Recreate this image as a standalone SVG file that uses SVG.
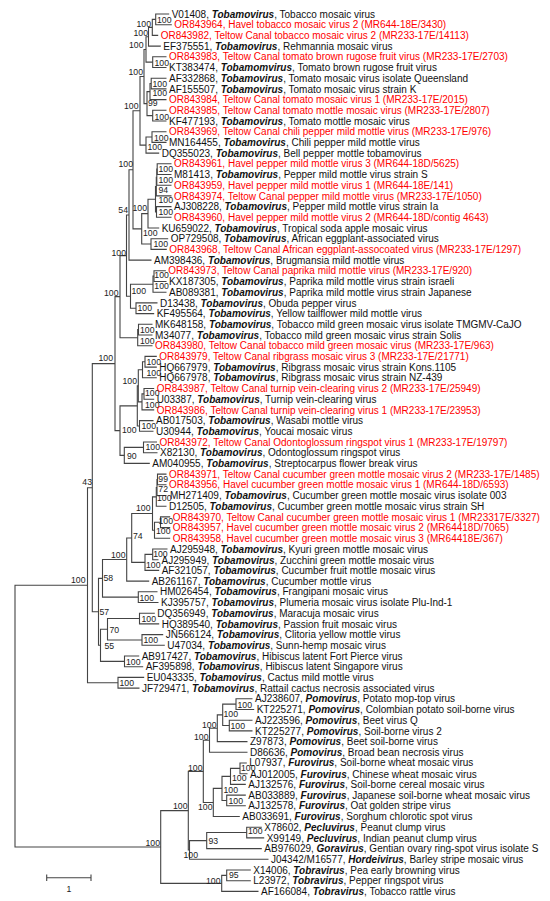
<svg xmlns="http://www.w3.org/2000/svg" width="550" height="901" viewBox="0 0 550 901">
<style>
.b{fill:none;stroke:#444;stroke-width:1.1}
.t{font-family:"Liberation Sans",Arial,sans-serif;font-size:10px;fill:#111}
.r{fill:#f00}
.g{font-weight:bold;font-style:italic}
.n{font-family:"Liberation Sans",Arial,sans-serif;font-size:8.7px;fill:#222}
.e{text-anchor:end}
</style>
<rect width="550" height="901" fill="#fff"/>
<g id="connectors" class="b">
<path d="M169.2 14H155.7V24.7H171.8"/>
<path d="M155.7 19.35H152.3V35.4H158.2"/>
<path d="M152.3 27.38H148.5V46.1H160.8"/>
<path d="M166.5 56.8H152.7V67.5H166.5"/>
<path d="M148.5 36.74H146V62.15H152.7"/>
<path d="M166.5 78.2H151.2V88.9H166.5"/>
<path d="M151.2 83.55H150V99.6H166.5"/>
<path d="M166.5 110.3H152.7V121H166.5"/>
<path d="M150 91.58H147V115.65H152.7"/>
<path d="M146 49.44H144V103.61H147"/>
<path d="M166.5 131.7H152V142.4H166.5"/>
<path d="M152 137.05H146V153.1H159.2"/>
<path d="M144 76.53H140V145.08H146"/>
<path d="M171.5 163.8H157.2V174.5H171.5"/>
<path d="M157.2 169.15H156.8V185.2H171.5"/>
<path d="M156.8 177.18H156.3V195.9H171.5"/>
<path d="M171.5 206.6H156.5V217.3H171.5"/>
<path d="M156.3 186.54H155.5V211.95H156.5"/>
<path d="M155.5 199.24H148V228H159.2"/>
<path d="M168.2 238.7H151V249.4H166.8"/>
<path d="M148 213.62H141.7V244.05H151"/>
<path d="M140 110.8H133V228.84H141.7"/>
<path d="M133 169.82H129V260.1H151.5"/>
<path d="M165.8 270.8H154V281.5H166.5"/>
<path d="M154 276.15H153V292.2H166.5"/>
<path d="M157.5 302.9H136V313.6H154.2"/>
<path d="M153 284.18H130.5V308.25H136"/>
<path d="M129 214.96H126.5V296.21H130.5"/>
<path d="M152.5 324.3H138.5V335H152.5"/>
<path d="M138.5 329.65H137.7V345.7H152.5"/>
<path d="M126.5 255.59H120V337.68H137.7"/>
<path d="M156.8 356.4H145V367.1H156.8"/>
<path d="M145 361.75H142.5V377.8H156.8"/>
<path d="M154.2 388.5H144V399.2H154.2"/>
<path d="M144 393.85H142V409.9H154.2"/>
<path d="M142.5 369.78H138.3V401.88H142"/>
<path d="M153.5 420.6H139.5V431.3H153.5"/>
<path d="M138.3 385.83H137.3V425.95H139.5"/>
<path d="M157 442H143.5V452.7H157.5"/>
<path d="M143.5 447.35H124.3V463.4H149.8"/>
<path d="M137.3 405.89H120V455.38H124.3"/>
<path d="M120 296.63H115V430.63H120"/>
<path d="M166.5 474.1H157.5V484.8H166.5"/>
<path d="M157.5 479.45H157V495.5H166.5"/>
<path d="M157 487.48H156.3V506.2H166.5"/>
<path d="M170.2 516.9H160.5V527.6H170.2"/>
<path d="M160.5 522.25H154.5V538.3H170.2"/>
<path d="M156.3 496.84H152.5V530.28H154.5"/>
<path d="M167.5 549H152.7V559.7H158.5"/>
<path d="M152.7 554.35H145V570.4H159.2"/>
<path d="M152.5 513.56H131.7V562.38H145"/>
<path d="M131.7 537.97H126.7V581.1H149.2"/>
<path d="M157.5 591.8H138.3V602.5H158.5"/>
<path d="M126.7 559.53H102.5V597.15H138.3"/>
<path d="M154.8 613.2H139.5V623.9H159.2"/>
<path d="M163.2 634.6H142V645.3H164.8"/>
<path d="M139.5 618.55H107.5V639.95H142"/>
<path d="M139.2 656H124.5V666.7H143.2"/>
<path d="M107.5 629.25H100.5V661.35H124.5"/>
<path d="M102.5 578.34H98.5V645.3H100.5"/>
<path d="M115 363.63H92.3V611.82H98.5"/>
<path d="M144.2 677.4H118V688.1H139.5"/>
<path d="M92.3 487.73H87.5V682.75H118"/>
<path d="M252.5 698.8H236V709.5H254.2"/>
<path d="M252.5 720.2H229.3V730.9H252.5"/>
<path d="M236 704.15H222.7V725.55H229.3"/>
<path d="M222.7 714.85H217.3V741.6H247.5"/>
<path d="M217.3 728.23H209.5V752.3H247.5"/>
<path d="M246.8 763H240V773.7H247.5"/>
<path d="M240 768.35H230.5V784.4H245.8"/>
<path d="M245.8 795.1H226.7V805.8H245.8"/>
<path d="M230.5 776.38H222V800.45H226.7"/>
<path d="M222 788.41H213.3V816.5H239.8"/>
<path d="M209.5 740.26H203.3V802.46H213.3"/>
<path d="M261.8 827.2H246.7V837.9H264.2"/>
<path d="M246.7 832.55H206.7V848.6H261.8"/>
<path d="M206.7 840.58H189.5V859.3H268.5"/>
<path d="M203.3 771.36H188.3V849.94H189.5"/>
<path d="M250.8 870H226.7V880.7H250.8"/>
<path d="M226.7 875.35H221.7V891.4H258.5"/>
<path d="M188.3 810.65H160.7V883.38H221.7"/>
<path d="M87.5 585.24H15V847.01H160.7"/>
</g>
<g id="scale-bar">
<path class="b" d="M46.7 877.7H91M46.7 874.5V881M91 874.5V881"/>
<text class="n" x="69" y="892" text-anchor="middle" font-size="10">1</text>
</g>
<g id="support-values" class="n">
<g id="node-1"><text x="157" y="22.6">100</text></g>
<g id="node-2"><text class="e" x="151" y="27.1">100</text></g>
<g id="node-3"><text class="e" x="148" y="36.1">100</text></g>
<g id="node-4"><text class="e" x="143.5" y="48.1">100</text></g>
<g id="node-5"><text x="154.5" y="65.6">100</text></g>
<g id="node-6"><text class="e" x="143" y="75.1">100</text></g>
<g id="node-7"><text x="152.5" y="87.1">100</text></g>
<g id="node-8"><text x="152.5" y="95.6">100</text></g>
<g id="node-9"><text x="148" y="106.1">99</text></g>
<g id="node-10"><text x="154.5" y="119.6">100</text></g>
<g id="node-11"><text class="e" x="138.5" y="109.1">100</text></g>
<g id="node-12"><text x="154" y="140.6">100</text></g>
<g id="node-13"><text x="147.5" y="150.1">100</text></g>
<g id="node-14"><text class="e" x="133" y="167.1">100</text></g>
<g id="node-15"><text x="158.5" y="171.6">100</text></g>
<g id="node-16"><text x="158.5" y="183.1">100</text></g>
<g id="node-17"><text x="158.5" y="193.1">94</text></g>
<g id="node-18"><text x="158.5" y="202.6">100</text></g>
<g id="node-19"><text x="158.5" y="215.1">100</text></g>
<g id="node-20"><text class="e" x="128" y="213.1">54</text></g>
<g id="node-21"><text class="e" x="147" y="211.1">100</text></g>
<g id="node-22"><text x="143" y="236.1">100</text></g>
<g id="node-23"><text x="153.5" y="246.6">100</text></g>
<g id="node-24"><text class="e" x="126" y="256.1">100</text></g>
<g id="node-25"><text class="e" x="118.5" y="296.1">100</text></g>
<g id="node-26"><text x="154.3" y="278.1">100</text></g>
<g id="node-27"><text x="154.3" y="289.1">100</text></g>
<g id="node-28"><text x="131.5" y="293.6">100</text></g>
<g id="node-29"><text x="137.5" y="310.6">100</text></g>
<g id="node-30"><text x="140" y="332.6">100</text></g>
<g id="node-31"><text x="140" y="344.1">100</text></g>
<g id="node-32"><text class="e" x="113" y="361.1">100</text></g>
<g id="node-33"><text x="146.5" y="364.6">100</text></g>
<g id="node-34"><text x="146.5" y="375.6">100</text></g>
<g id="node-35"><text class="e" x="137" y="384.1">100</text></g>
<g id="node-36"><text x="145" y="396.1">100</text></g>
<g id="node-37"><text x="145" y="407.6">100</text></g>
<g id="node-38"><text x="141.5" y="429.1">100</text></g>
<g id="node-39"><text x="122" y="432.6">100</text></g>
<g id="node-40"><text x="145.5" y="450.1">100</text></g>
<g id="node-41"><text x="127" y="458.6">90</text></g>
<g id="node-42"><text class="e" x="92" y="485.1">43</text></g>
<g id="node-43"><text x="158.3" y="482.1">99</text></g>
<g id="node-44"><text x="158.3" y="492.1">72</text></g>
<g id="node-45"><text x="157" y="501.1">100</text></g>
<g id="node-46"><text class="e" x="150.5" y="511.1">100</text></g>
<g id="node-47"><text x="158.5" y="524.1">100</text></g>
<g id="node-48"><text x="156" y="534.1">100</text></g>
<g id="node-49"><text x="133" y="538.6">74</text></g>
<g id="node-50"><text x="153.2" y="557.4">100</text></g>
<g id="node-51"><text x="146" y="567.6">100</text></g>
<g id="node-52"><text class="e" x="125.5" y="557.6">100</text></g>
<g id="node-53"><text x="103.5" y="581.1">58</text></g>
<g id="node-54"><text class="e" x="85.5" y="583.1">100</text></g>
<g id="node-55"><text x="139.5" y="600.6">100</text></g>
<g id="node-56"><text x="99.5" y="614.6">57</text></g>
<g id="node-57"><text x="141.5" y="621.6">100</text></g>
<g id="node-58"><text x="109.5" y="632.6">70</text></g>
<g id="node-59"><text x="143.5" y="643.1">100</text></g>
<g id="node-60"><text x="104.5" y="649.1">55</text></g>
<g id="node-61"><text x="126" y="664.6">100</text></g>
<g id="node-62"><text x="119.5" y="686.1">100</text></g>
<g id="node-63"><text x="237.5" y="707.6">100</text></g>
<g id="node-64"><text x="223.5" y="717.1">100</text></g>
<g id="node-65"><text x="230.5" y="729.1">100</text></g>
<g id="node-66"><text class="e" x="216.5" y="727.6">100</text></g>
<g id="node-67"><text class="e" x="208.5" y="739.6">100</text></g>
<g id="node-68"><text class="e" x="202.5" y="770.6">100</text></g>
<g id="node-69"><text x="241" y="770.8">100</text></g>
<g id="node-70"><text x="232" y="780.6">100</text></g>
<g id="node-71"><text x="223.5" y="792.6">100</text></g>
<g id="node-72"><text x="228.5" y="803.6">100</text></g>
<g id="node-73"><text class="e" x="212.5" y="810.1">100</text></g>
<g id="node-74"><text class="e" x="187.5" y="808.6">100</text></g>
<g id="node-75"><text x="248" y="834.1">100</text></g>
<g id="node-76"><text x="208.5" y="843.6">93</text></g>
<g id="node-77"><text class="e" x="160" y="845.6">100</text></g>
<g id="node-78"><text class="e" x="198" y="858.1">100</text></g>
<g id="node-79"><text x="229" y="877.6">95</text></g>
<g id="node-80"><text class="e" x="220.5" y="883.6">100</text></g>
</g>
<g id="leaves" class="t">
<g id="leaf-V01408"><text x="171.7" y="17.6">V01408, <tspan class="g">Tobamovirus</tspan>, Tobacco mosaic virus</text></g>
<g id="leaf-OR843964"><text class="r" x="174.3" y="28.3">OR843964, Havel tobacco mosaic virus 2 (MR644-18E/3430)</text></g>
<g id="leaf-OR843982"><text class="r" x="160.7" y="39">OR843982, Teltow Canal tobacco mosaic virus 2 (MR233-17E/14113)</text></g>
<g id="leaf-EF375551"><text x="163.3" y="49.7">EF375551, <tspan class="g">Tobamovirus</tspan>, Rehmannia mosaic virus</text></g>
<g id="leaf-OR843983"><text class="r" x="169" y="60.4">OR843983, Teltow Canal tomato brown rugose fruit virus (MR233-17E/2703)</text></g>
<g id="leaf-KT383474"><text x="169" y="71.1">KT383474, <tspan class="g">Tobamomvirus</tspan>, Tomato brown rugose fruit virus</text></g>
<g id="leaf-AF332868"><text x="169" y="81.8">AF332868, <tspan class="g">Tobamovirus</tspan>, Tomato mosaic virus isolate Queensland</text></g>
<g id="leaf-AF155507"><text x="169" y="92.5">AF155507, <tspan class="g">Tobamovirus</tspan>, Tomato mosaic virus strain K</text></g>
<g id="leaf-OR843984"><text class="r" x="169" y="103.2">OR843984, Teltow Canal tomato mosaic virus 1  (MR233-17E/2015)</text></g>
<g id="leaf-OR843985"><text class="r" x="169" y="113.9">OR843985, Teltow Canal tomato mottle mosaic virus (MR233-17E/2807)</text></g>
<g id="leaf-KF477193"><text x="169" y="124.6">KF477193, <tspan class="g">Tobamovirus</tspan>, Tomato mottle mosaic virus</text></g>
<g id="leaf-OR843969"><text class="r" x="169" y="135.3">OR843969, Teltow Canal chili pepper mild mottle virus (MR233-17E/976)</text></g>
<g id="leaf-MN164455"><text x="169" y="146">MN164455, <tspan class="g">Tobamovirus</tspan>, Chili pepper mild mottle virus</text></g>
<g id="leaf-DQ355023"><text x="161.7" y="156.7">DQ355023, <tspan class="g">Tobamovirus</tspan>, Bell pepper mottle tobamovirus</text></g>
<g id="leaf-OR843961"><text class="r" x="174" y="167.4">OR843961, Havel pepper mild mottle virus 3 (MR644-18D/5625)</text></g>
<g id="leaf-M81413"><text x="174" y="178.1">M81413, <tspan class="g">Tobamovirus</tspan>, Pepper mild mottle virus strain S</text></g>
<g id="leaf-OR843959"><text class="r" x="174" y="188.8">OR843959, Havel pepper mild mottle virus 1  (MR644-18E/141)</text></g>
<g id="leaf-OR843974"><text class="r" x="174" y="199.5">OR843974, Teltow Canal pepper mild mottle virus (MR233-17E/1050)</text></g>
<g id="leaf-AJ308228"><text x="174" y="210.2">AJ308228, <tspan class="g">Tobamovirus</tspan>, Pepper mild mottle virus strain Ia</text></g>
<g id="leaf-OR843960"><text class="r" x="174" y="220.9">OR843960, Havel pepper mild mottle virus 2 (MR644-18D/contig 4643)</text></g>
<g id="leaf-KU659022"><text x="161.7" y="231.6">KU659022, <tspan class="g">Tobamovirus</tspan>, Tropical soda apple mosaic virus</text></g>
<g id="leaf-OP729508"><text x="170.7" y="242.3">OP729508, <tspan class="g">Tobamovirus</tspan>, African eggplant-associated virus</text></g>
<g id="leaf-OR843968"><text class="r" x="169.3" y="253">OR843968, Teltow Canal African eggplant-assocoated virus (MR233-17E/1297)</text></g>
<g id="leaf-AM398436"><text x="154" y="263.7">AM398436, <tspan class="g">Tobamovirus</tspan>, Brugmansia mild mottle virus</text></g>
<g id="leaf-OR843973"><text class="r" x="168.3" y="274.4">OR843973, Teltow Canal paprika mild mottle virus (MR233-17E/920)</text></g>
<g id="leaf-KX187305"><text x="169" y="285.1">KX187305, <tspan class="g">Tobamovirus</tspan>, Paprika mild mottle virus strain israeli</text></g>
<g id="leaf-AB089381"><text x="169" y="295.8">AB089381, <tspan class="g">Tobamovirus</tspan>, Paprika mild mottle virus strain Japanese</text></g>
<g id="leaf-D13438"><text x="160" y="306.5">D13438, <tspan class="g">Tobamovirus</tspan>, Obuda pepper virus</text></g>
<g id="leaf-KF495564"><text x="156.7" y="317.2">KF495564, <tspan class="g">Tobamovirus</tspan>, Yellow tailflower mild mottle virus</text></g>
<g id="leaf-MK648158"><text x="155" y="327.9">MK648158, <tspan class="g">Tobamovirus</tspan>, Tobacco mild green mosaic virus isolate TMGMV-CaJO</text></g>
<g id="leaf-M34077"><text x="155" y="338.6">M34077, <tspan class="g">Tobamovirus</tspan>, Tobacco mild green mosaic virus strain Solis</text></g>
<g id="leaf-OR843980"><text class="r" x="155" y="349.3">OR843980, Teltow Canal tobacco mild green mosaic virus (MR233-17E/963)</text></g>
<g id="leaf-OR843979"><text class="r" x="159.3" y="360">OR843979, Teltow Canal ribgrass mosaic virus 3 (MR233-17E/21771)</text></g>
<g id="leaf-HQ667979"><text x="159.3" y="370.7">HQ667979, <tspan class="g">Tobamovirus</tspan>, Ribgrass mosaic virus strain Kons.1105</text></g>
<g id="leaf-HQ667978"><text x="159.3" y="381.4">HQ667978, <tspan class="g">Tobamovirus</tspan>, Ribgrass mosaic virus strain NZ-439</text></g>
<g id="leaf-OR843987"><text class="r" x="156.7" y="392.1">OR843987, Teltow Canal turnip vein-clearing virus 2 (MR233-17E/25949)</text></g>
<g id="leaf-U03387"><text x="156.7" y="402.8">U03387, <tspan class="g">Tobamovirus</tspan>, Turnip vein-clearing virus</text></g>
<g id="leaf-OR843986"><text class="r" x="156.7" y="413.5">OR843986, Teltow Canal turnip vein-clearing virus 1 (MR233-17E/23953)</text></g>
<g id="leaf-AB017503"><text x="156" y="424.2">AB017503, <tspan class="g">Tobamovirus</tspan>, Wasabi mottle virus</text></g>
<g id="leaf-U30944"><text x="156" y="434.9">U30944, <tspan class="g">Tobamovirus</tspan>, Youcai mosaic virus</text></g>
<g id="leaf-OR843972"><text class="r" x="159.5" y="445.6">OR843972, Teltow Canal Odontoglossum ringspot virus 1 (MR233-17E/19797)</text></g>
<g id="leaf-X82130"><text x="160" y="456.3">X82130, <tspan class="g">Tobamovirus</tspan>, Odontoglossum ringspot virus</text></g>
<g id="leaf-AM040955"><text x="152.3" y="467">AM040955, <tspan class="g">Tobamovirus</tspan>, Streptocarpus flower break virus</text></g>
<g id="leaf-OR843971"><text class="r" x="169" y="477.7">OR843971, Teltow Canal cucumber green mottle mosaic virus 2 (MR233-17E/1485)</text></g>
<g id="leaf-OR843956"><text class="r" x="169" y="488.4">OR843956, Havel cucumber green mottle mosaic virus 1  (MR644-18D/6593)</text></g>
<g id="leaf-MH271409"><text x="170" y="499.1">MH271409, <tspan class="g">Tobamovirus</tspan>, Cucumber green mottle mosaic virus isolate 003</text></g>
<g id="leaf-D12505"><text x="169" y="509.8">D12505, <tspan class="g">Tobamovirus</tspan>, Cucumber green mottle mosaic virus strain SH</text></g>
<g id="leaf-OR843970"><text class="r" x="172.7" y="520.5">OR843970, Teltow Canal cucumber green mottle mosaic virus 1  (MR23317E/3327)</text></g>
<g id="leaf-OR843957"><text class="r" x="172.7" y="531.2">OR843957, Havel cucumber green mottle mosaic virus 2  (MR64418D/7065)</text></g>
<g id="leaf-OR843958"><text class="r" x="172.7" y="541.9">OR843958, Havel cucumber green mottle mosaic virus 3  (MR64418E/367)</text></g>
<g id="leaf-AJ295948"><text x="170" y="552.6">AJ295948, <tspan class="g">Tobamovirus</tspan>, Kyuri green mottle mosaic virus</text></g>
<g id="leaf-AJ295949"><text x="161.5" y="563.5">AJ295949, <tspan class="g">Tobamovirus</tspan>, Zucchini green mottle mosaic virus</text></g>
<g id="leaf-AF321057"><text x="161.7" y="574">AF321057, <tspan class="g">Tobamovirus</tspan>, Cucumber fruit mottle mosaic virus</text></g>
<g id="leaf-AB261167"><text x="151.7" y="584.7">AB261167, <tspan class="g">Tobamovirus</tspan>, Cucumber mottle virus</text></g>
<g id="leaf-HM026454"><text x="160" y="595.4">HM026454, <tspan class="g">Tobamovirus</tspan>, Frangipani mosaic virus</text></g>
<g id="leaf-KJ395757"><text x="161" y="606.1">KJ395757, <tspan class="g">Tobamovirus</tspan>, Plumeria mosaic virus isolate Plu-Ind-1</text></g>
<g id="leaf-DQ356949"><text x="157.3" y="616.8">DQ356949, <tspan class="g">Tobamovirus</tspan>, Maracuja mosaic virus</text></g>
<g id="leaf-HQ389540"><text x="161.7" y="627.5">HQ389540, <tspan class="g">Tobamovirus</tspan>, Passion fruit mosaic virus</text></g>
<g id="leaf-JN566124"><text x="165.7" y="638.2">JN566124, <tspan class="g">Tobamovirus</tspan>, Clitoria yellow mottle virus</text></g>
<g id="leaf-U47034"><text x="167.3" y="648.9">U47034, <tspan class="g">Tobamovirus</tspan>, Sunn-hemp mosaic virus</text></g>
<g id="leaf-AB917427"><text x="141.7" y="659.6">AB917427, <tspan class="g">Tobamovirus</tspan>, Hibiscus latent Fort Pierce virus</text></g>
<g id="leaf-AF395898"><text x="145.7" y="670.3">AF395898, <tspan class="g">Tobamovirus</tspan>, Hibiscus latent Singapore virus</text></g>
<g id="leaf-EU043335"><text x="146.7" y="681">EU043335, <tspan class="g">Tobamovirus</tspan>, Cactus mild mottle virus</text></g>
<g id="leaf-JF729471"><text x="142" y="691.7">JF729471, <tspan class="g">Tobamovirus</tspan>, Rattail cactus necrosis associated virus</text></g>
<g id="leaf-AJ238607"><text x="255" y="702.4">AJ238607, <tspan class="g">Pomovirus</tspan>, Potato mop-top virus</text></g>
<g id="leaf-KT225271"><text x="256.7" y="713.1">KT225271, <tspan class="g">Pomovirus</tspan>, Colombian potato soil-borne virus</text></g>
<g id="leaf-AJ223596"><text x="255" y="723.8">AJ223596, <tspan class="g">Pomovirus</tspan>, Beet virus Q</text></g>
<g id="leaf-KT225277"><text x="255" y="734.5">KT225277, <tspan class="g">Pomovirus</tspan>, Soil-borne virus 2</text></g>
<g id="leaf-Z97873"><text x="250" y="745.2">Z97873, <tspan class="g">Pomovirus</tspan>, Beet soil-borne virus</text></g>
<g id="leaf-D86636"><text x="250" y="755.9">D86636, <tspan class="g">Pomovirus</tspan>, Broad bean necrosis virus</text></g>
<g id="leaf-L07937"><text x="249.3" y="766.4">L07937, <tspan class="g">Furovirus</tspan>, Soil-borne wheat mosaic virus</text></g>
<g id="leaf-AJ012005"><text x="250" y="777.5">AJ012005, <tspan class="g">Furovirus</tspan>, Chinese wheat mosaic virus</text></g>
<g id="leaf-AJ132576"><text x="248.3" y="788">AJ132576, <tspan class="g">Furovirus</tspan>, Soil-borne cereal mosaic virus</text></g>
<g id="leaf-AB033889"><text x="248.3" y="798.7">AB033889, <tspan class="g">Furovirus</tspan>, Japanese soil-borne wheat mosaic virus</text></g>
<g id="leaf-AJ132578"><text x="248.3" y="809.4">AJ132578, <tspan class="g">Furovirus</tspan>, Oat golden stripe virus</text></g>
<g id="leaf-AB033691"><text x="242.3" y="820.1">AB033691, <tspan class="g">Furovirus</tspan>, Sorghum chlorotic spot virus</text></g>
<g id="leaf-X78602"><text x="264.3" y="830.8">X78602, <tspan class="g">Pecluvirus</tspan>, Peanut clump virus</text></g>
<g id="leaf-X99149"><text x="266.7" y="841.5">X99149, <tspan class="g">Pecluvirus</tspan>, Indian peanut clump virus</text></g>
<g id="leaf-AB976029"><text x="264.3" y="852.2">AB976029, <tspan class="g">Goravirus</tspan>, Gentian ovary ring-spot virus isolate S</text></g>
<g id="leaf-J04342"><text x="271" y="862.9">J04342/M16577, <tspan class="g">Hordeivirus</tspan>, Barley stripe mosaic virus</text></g>
<g id="leaf-X14006"><text x="253.3" y="873.6">X14006, <tspan class="g">Tobravirus</tspan>, Pea early browning virus</text></g>
<g id="leaf-L23972"><text x="253.3" y="884.3">L23972, <tspan class="g">Tobravirus</tspan>, Pepper ringspot virus</text></g>
<g id="leaf-AF166084"><text x="261" y="895">AF166084, <tspan class="g">Tobravirus</tspan>, Tobacco rattle virus</text></g>
</g>
</svg>
